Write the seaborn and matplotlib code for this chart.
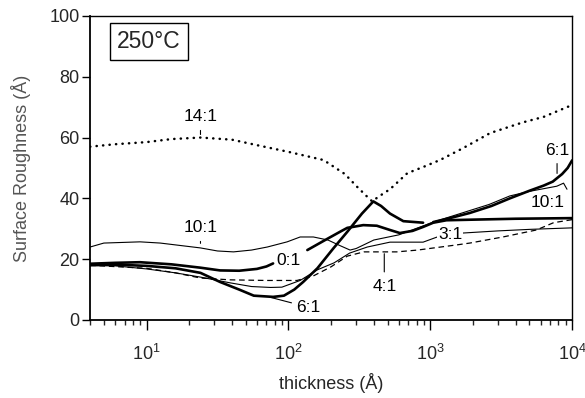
import numpy as np
import pandas as pd
import matplotlib
matplotlib.use("Agg")
import matplotlib.pyplot as plt
import seaborn as sns

# 14:1 (dotted)
x_14 = [4, 6, 10, 15, 24, 40, 60, 100, 177, 250, 305, 360, 390, 430, 520, 690, 890, 1170, 1700, 2650, 4500, 6300, 10000]
y_14 = [57, 57.8, 58.5, 59.5, 60, 59.3, 57.5, 55.3, 52.6, 48, 43.8, 40.5, 39, 40.5, 43, 48.3, 50.3, 52.6, 56.5, 61.5, 65, 66.8, 70.7]

# 10:1 (thin)
x_10 = [4, 5, 9, 12.5, 24, 31.6, 41, 55, 71, 98, 121, 150, 190, 230, 272, 300, 350, 400, 600, 1100,
        1900, 2600, 3640, 5000, 7800, 8700, 9200]
y_10 = [24, 25.3, 25.7, 25.3, 23.7, 22.7, 22.4, 23, 24, 25.7, 27.3, 27.3, 26.3, 24.5, 23, 23.5, 25, 26.3, 28, 32.5,
        36, 38, 40.8, 42.3, 44, 45, 43]

# 3:1 (thin)
x_3 = [4, 6, 10, 16, 24, 39, 55, 75, 90, 121, 160, 210, 270, 360, 520, 890, 1120, 1700, 3000, 5000, 10000]
y_3 = [18, 17.8, 16.8, 15.5, 14.1, 12.2, 11, 10.7, 10.8, 13, 16.5, 18.8, 22, 24, 25.6, 25.6, 27.3, 28.6, 29.3, 29.8, 30.3]

# 4:1 (dashed)
x_4 = [4, 10, 16, 24, 39, 70, 115, 150, 200, 260, 340, 580, 815, 1540, 1900, 3250, 5600, 7400, 10000]
y_4 = [18, 17, 15.5, 13.8, 13.2, 13, 13, 14.5, 17.5, 21, 22.4, 22.4, 23, 24.7, 25.3, 27.3, 29.6, 32, 33]

# 0:1 (thick), two runs
x_0a = [4, 6, 9, 15, 24, 33, 45, 60, 70, 78]
y_0a = [18.5, 18.8, 19, 18.3, 17.2, 16.3, 16.2, 16.8, 17.6, 18.6]
x_0b = [136, 180, 233, 260, 337, 420, 520, 610, 750, 890, 1050, 1300, 2000, 4000, 10000]
y_0b = [23, 26.2, 29.1, 30.3, 31.2, 31, 29.6, 28.6, 29.3, 30.6, 32, 32.8, 33, 33.3, 33.5]

# 6:1 (thick), two runs
x_6a = [4, 6, 10, 16, 24, 33, 45, 57, 78, 93, 110, 127, 160, 207, 260, 330, 397, 450, 520, 646, 890]
y_6a = [18, 18.2, 17.8, 17, 15.5, 12.5, 10, 8, 7.6, 8, 10, 12.5, 17, 23.5, 29, 35, 39, 37.5, 35, 32.5, 32]
x_6b = [1050, 1400, 1900, 2700, 3640, 5000, 6300, 7300, 8500, 9300, 10000]
y_6b = [32.2, 33.6, 35.2, 37.5, 40, 42.5, 44.2, 45.5, 48, 50, 52.5]

sns.set_style("ticks")
plt.rcParams['font.family'] = ['Liberation Sans', 'DejaVu Sans']
plt.rcParams['mathtext.fontset'] = 'custom'
plt.rcParams['mathtext.rm'] = 'Liberation Sans'

fig = plt.figure(figsize=(5.85, 3.98), dpi=100)
ax = fig.add_axes([0.154, 0.196, 0.824, 0.764])

thick = dict(color='black', lw=1.9, solid_capstyle='round')
thin = dict(color='black', lw=0.8)

def draw(x, y, **kw):
    sns.lineplot(x=x, y=y, ax=ax, estimator=None, sort=False, **kw)

draw(x_14, y_14, color='black', lw=1.8, linestyle=(0, (0.1, 2.5)), dash_capstyle='round')
draw(x_10, y_10, **thin)
draw(x_3, y_3, **thin)
draw(x_4, y_4, color='black', lw=0.9, linestyle=(0, (4.5, 3)))
draw(x_0a, y_0a, **thick)
draw(x_0b, y_0b, **thick)
draw(x_6a, y_6a, **thick)
draw(x_6b, y_6b, **thick)

ax.set_xscale('log')
ax.set_xlim(4, 10000)
ax.set_ylim(0, 100)
ax.set_yticks([0, 20, 40, 60, 80, 100])
ax.tick_params(axis='both', which='major', direction='out', width=1, labelsize=13, color='black')
ax.tick_params(axis='x', which='major', length=7, pad=10)
ax.tick_params(axis='y', which='major', length=5.5, pad=2)
ax.tick_params(axis='x', which='minor', direction='out', length=3.5, width=1)
ax.xaxis.set_minor_formatter(matplotlib.ticker.NullFormatter())
for s in ax.spines.values():
    s.set_linewidth(1.0)
    s.set_color('black')
ax.spines['left'].set_linewidth(1.3)
ax.spines['bottom'].set_linewidth(1.3)

ax.set_xlabel('thickness (Å)', fontsize=13, labelpad=7)
ax.set_ylabel('Surface Roughness (Å)', fontsize=13, color='#555555', labelpad=13)

ax.text(0.122, 0.916, '250°C', transform=ax.transAxes, fontsize=16.5, ha='center', va='center',
        bbox=dict(boxstyle='square,pad=0.3', fc='white', ec='black', lw=1))

lab = dict(fontsize=12.5, ha='center', va='center', color='black')
arr = dict(arrowstyle='-', lw=0.8, color='black', shrinkB=0)
ax.annotate('14:1', xy=(24, 61), xytext=(24, 66.8), arrowprops=dict(arr, shrinkA=2), **lab)
ax.annotate('10:1', xy=(24, 25.2), xytext=(24, 30.3), arrowprops=dict(arr, shrinkA=2), **lab)
ax.text(100, 19.5, '0:1', **lab)
ax.annotate('6:1', xy=(74, 7.5), xytext=(138, 4.2), arrowprops=dict(arr, shrinkA=1), **lab)
ax.annotate('4:1', xy=(474, 21.8), xytext=(474, 10.9), arrowprops=dict(arr, shrinkA=3), **lab)
ax.text(1380, 28.2, '3:1', bbox=dict(boxstyle='square,pad=0.05', fc='white', ec='none'), **lab)
ax.annotate('6:1', xy=(7830, 48.2), xytext=(7830, 55.9), arrowprops=dict(arr, shrinkA=2), **lab)
ax.text(6750, 38.5, '10:1', **lab)

fig.savefig('out.png', dpi=100)
